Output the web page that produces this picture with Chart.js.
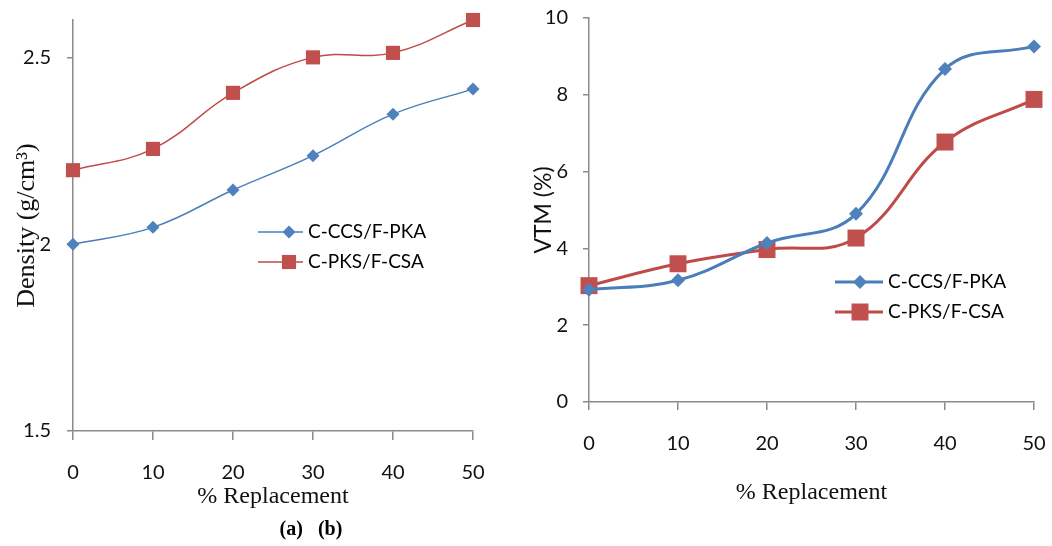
<!DOCTYPE html>
<html>
<head>
<meta charset="utf-8">
<script src="https://cdn.jsdelivr.net/npm/chart.js@4"></script>
<style>
    html, body { margin: 0; padding: 0; background: #fff; }
    #wrap { position: relative; width: 1052px; height: 546px; overflow: hidden; }
    #densityChart { position: absolute; left: 0; top: 0; }
    #vtmChart { position: absolute; left: 530px; top: 0; }
    #caption {
        position: absolute; left: 311px; top: 528px;
        transform: translate(-50%, -50%);
        font: bold 20px "Liberation Serif", serif; color: #000; white-space: pre;
    }
</style>
</head>
<body>
<div id="wrap">
    <canvas id="densityChart" width="520" height="546"></canvas>
    <canvas id="vtmChart" width="522" height="546"></canvas>
    <div id="caption">(a)   (b)</div>
</div>
<script>
// data
const replacement = [0, 10, 20, 30, 40, 50];
const seriesNames = ['C-CCS/F-PKA', 'C-PKS/F-CSA'];
const densityCCS = [2.00, 2.045, 2.145, 2.237, 2.348, 2.415];
const densityPKS = [2.198, 2.255, 2.405, 2.50, 2.512, 2.60];
const vtmCCS = [2.92, 3.17, 4.14, 4.90, 8.67, 9.26];
const vtmPKS = [3.03, 3.60, 3.97, 4.27, 6.77, 7.88];
const densityTicks = [1.5, 2, 2.5];
const vtmTicks = [0, 2, 4, 6, 8, 10];

const BLUE_LINE = '#4a7ebb';
const BLUE_FILL = '#4f81bd';
const RED_LINE = '#be4b48';
const RED_FILL = '#c0504d';
const AXIS = '#8a8a8a';

function toPoints(values) {
    return replacement.map((x, i) => ({ x: x, y: values[i] }));
}

// legend drawn inside the plot, like the Excel original
const insideLegend = {
    id: 'insideLegend',
    afterDraw(chart, args, opts) {
        const ctx = chart.ctx;
        ctx.save();
        chart.data.datasets.forEach((ds, i) => {
            const y = opts.y + i * opts.gap;
            ctx.strokeStyle = ds.borderColor;
            ctx.lineWidth = ds.borderWidth;
            ctx.beginPath();
            ctx.moveTo(opts.x, y);
            ctx.lineTo(opts.x + opts.lineLen, y);
            ctx.stroke();
            ctx.fillStyle = ds.pointBackgroundColor;
            ctx.strokeStyle = ds.pointBorderColor;
            Chart.helpers.drawPoint(ctx, {
                pointStyle: ds.pointStyle,
                radius: ds.pointRadius,
                rotation: 0,
                borderWidth: 0
            }, opts.x + opts.markerAt, y);
            ctx.fillStyle = '#000';
            ctx.font = opts.font;
            ctx.textBaseline = 'middle';
            ctx.fillText(ds.label, opts.x + opts.lineLen + opts.textGap, y);
        });
        ctx.restore();
    }
};

function makeDataset(label, values, line, fill, style, radius, width) {
    return {
        label: label,
        data: toPoints(values),
        borderColor: line,
        borderWidth: width,
        pointStyle: style,
        pointRadius: radius,
        pointHoverRadius: radius,
        pointBackgroundColor: fill,
        pointBorderColor: fill,
        pointBorderWidth: 0,
        tension: 0.4,
        clip: false
    };
}

function makeOptions(cfg) {
    return {
        responsive: false,
        animation: false,
        events: [],
        layout: { padding: cfg.padding },
        plugins: {
            legend: { display: false },
            tooltip: { enabled: false },
            insideLegend: cfg.legend
        },
        scales: {
            x: {
                type: 'linear',
                min: 0,
                max: 50,
                afterFit(scale) {
                    scale.height = cfg.xHeight;
                    scale.paddingLeft = 0;
                    scale.paddingRight = 0;
                },
                afterBuildTicks(scale) { scale.ticks = replacement.map(v => ({ value: v })); },
                grid: { drawOnChartArea: false, drawTicks: true, tickLength: cfg.xTick, color: AXIS, lineWidth: 1.5 },
                border: { color: AXIS, width: 1.5 },
                ticks: {
                    color: '#111', padding: cfg.xPad, maxRotation: 0,
                    font: { family: 'Lato', size: 20 },
                    callback: v => String(v)
                },
                title: {
                    display: true,
                    text: '% Replacement',
                    color: '#111',
                    padding: { top: 0, bottom: cfg.xTitlePad },
                    font: { family: 'Liberation Serif', size: 24 }
                }
            },
            y: {
                min: cfg.yMin,
                max: cfg.yMax,
                afterFit(scale) {
                    scale.width = cfg.yWidth;
                    scale.paddingTop = 0;
                    scale.paddingBottom = 0;
                },
                afterBuildTicks(scale) { scale.ticks = cfg.yTicks.map(v => ({ value: v })); },
                grid: { drawOnChartArea: false, drawTicks: true, tickLength: 6, color: AXIS, lineWidth: 1.5 },
                border: { color: AXIS, width: 1.5 },
                ticks: {
                    color: '#111', padding: cfg.yPad,
                    font: { family: 'Lato', size: 20 },
                    callback: v => String(v)
                },
                title: {
                    display: true,
                    text: cfg.yTitle,
                    color: '#111',
                    padding: { top: cfg.yTitlePad, bottom: 0 },
                    font: cfg.yTitleFont
                }
            }
        }
    };
}

new Chart(document.getElementById('densityChart'), {
    type: 'line',
    data: {
        datasets: [
            makeDataset(seriesNames[0], densityCCS, BLUE_LINE, BLUE_FILL, 'rectRot', 6.5, 1.5),
            makeDataset(seriesNames[1], densityPKS, RED_LINE, RED_FILL, 'rect', 10, 1.5)
        ]
    },
    options: makeOptions({
        padding: { left: 0, right: 47, top: 20, bottom: 35 },
        xHeight: 80, xTick: 9, xPad: 21, xTitlePad: 0,
        yWidth: 73, yPad: 16, yTitlePad: 12,
        yMin: 1.5, yMax: 2.6, yTicks: densityTicks,
        yTitle: 'Density (g/cm³)',
        yTitleFont: { family: 'Liberation Serif', size: 26 },
        legend: { x: 258, y: 232, gap: 30, lineLen: 45, markerAt: 31, textGap: 5, font: '19px Lato' }
    }),
    plugins: [insideLegend]
});

new Chart(document.getElementById('vtmChart'), {
    type: 'line',
    data: {
        datasets: [
            makeDataset(seriesNames[0], vtmCCS, BLUE_LINE, BLUE_FILL, 'rectRot', 7, 3),
            makeDataset(seriesNames[1], vtmPKS, RED_LINE, RED_FILL, 'rect', 12, 3)
        ]
    },
    options: makeOptions({
        padding: { left: 0, right: 18, top: 18, bottom: 37 },
        xHeight: 107, xTick: 8, xPad: 22, xTitlePad: 2,
        yWidth: 59, yPad: 15, yTitlePad: 0,
        yMin: 0, yMax: 10, yTicks: vtmTicks,
        yTitle: 'VTM (%)',
        yTitleFont: { family: 'Lato', size: 23 },
        legend: { x: 305, y: 282, gap: 30, lineLen: 48, markerAt: 25, textGap: 5, font: '19px Lato' }
    }),
    plugins: [insideLegend]
});
</script>
</body>
</html>
